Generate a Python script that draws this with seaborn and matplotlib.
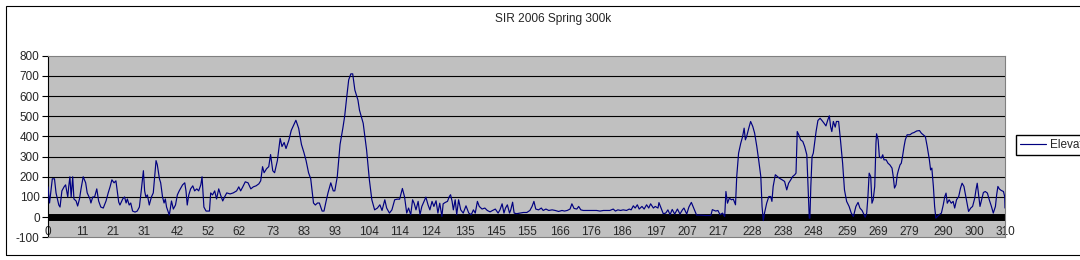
import matplotlib
matplotlib.use("Agg")
import matplotlib.pyplot as plt
from matplotlib.patches import Rectangle
import seaborn as sns
import pandas as pd

# ---- data ----
distance_km = [
    0.0, 0.5, 1.4, 2.1, 2.6, 3.5, 3.9, 4.5, 5.2, 5.7, 6.4, 6.7, 7.1, 7.5, 8.0, 8.4, 9.1, 9.6,
    10.2, 10.7, 11.4, 12.2, 12.7, 13.6, 13.9, 14.5, 15.1, 15.8, 16.4, 17.1, 17.9, 18.8, 19.5,
    20.1, 20.7, 21.4, 22.0, 22.9, 23.3, 24.2, 24.8, 25.3, 25.7, 26.3, 26.8, 27.4, 28.2, 28.9,
    29.6, 30.2, 30.9, 31.3, 31.7, 32.2, 32.8, 33.5, 34.1, 35.0, 35.4, 36.1, 36.5, 37.1, 37.6,
    38.0, 38.4, 39.3, 40.0, 40.6, 41.3, 41.9, 42.5, 43.6, 44.3, 44.7, 45.1, 45.6, 46.2, 46.9,
    47.5, 48.2, 48.8, 49.5, 49.9, 50.5, 51.2, 52.3, 52.7, 53.3, 54.0, 54.6, 55.3, 55.9, 56.6,
    57.2, 57.9, 59.0, 60.0, 61.1, 61.8, 62.4, 63.1, 63.9, 64.8, 65.7, 66.5, 67.4, 68.3, 68.9,
    69.5, 70.0, 70.8, 71.5, 72.1, 72.8, 73.4, 74.3, 75.2, 75.8, 76.5, 77.1, 78.0, 78.8, 79.7,
    80.3, 81.2, 82.1, 82.9, 83.6, 84.4, 85.1, 86.0, 86.6, 87.3, 87.9, 88.8, 89.4, 90.1, 90.7,
    91.6, 92.4, 92.9, 93.7, 94.6, 95.5, 96.1, 96.8, 97.4, 98.1, 98.7, 99.4, 100.4, 100.9,
    102.1, 103.2, 104.1, 104.9, 105.8, 106.7, 107.5, 108.2, 109.1, 109.7, 110.6, 111.4, 112.3,
    113.1, 113.9, 114.8, 115.5, 116.2, 116.8, 117.5, 118.1, 118.6, 119.2, 119.9, 120.5, 121.1,
    121.8, 122.4, 123.1, 123.7, 124.4, 125.0, 125.7, 126.3, 126.9, 127.6, 128.0, 128.7, 129.4,
    130.0, 130.4, 130.9, 131.3, 131.9, 132.4, 133.0, 133.7, 134.5, 135.4, 136.3, 137.1, 137.8,
    138.4, 139.1, 139.7, 140.6, 141.5, 142.3, 143.2, 144.0, 144.9, 145.8, 146.4, 147.1, 147.7,
    148.2, 148.8, 149.5, 149.9, 150.5, 151.0, 151.8, 152.9, 154.0, 155.1, 156.1, 156.8, 157.4,
    158.0, 158.9, 159.8, 160.4, 161.3, 162.2, 163.3, 164.3, 165.4, 166.5, 167.3, 168.2, 169.1,
    169.7, 170.4, 171.3, 171.9, 172.6, 173.4, 174.5, 175.6, 176.7, 177.7, 178.8, 179.9, 181.0,
    182.0, 183.1, 183.8, 184.6, 185.5, 186.3, 187.4, 188.3, 188.9, 189.6, 190.2, 190.9, 191.5,
    192.4, 193.1, 193.9, 194.6, 195.2, 196.1, 196.7, 197.6, 197.9, 198.7, 199.3, 200.1, 200.8,
    201.5, 202.2, 203.0, 203.9, 204.7, 205.5, 206.0, 206.9, 207.6, 208.4, 209.3, 210.1, 211.4,
    213.0, 214.7, 215.2, 216.3, 217.0, 217.7, 218.5, 219.2, 219.6, 220.1, 220.7, 221.4, 222.0,
    222.7, 223.1, 223.7, 224.4, 225.0, 225.5, 225.9, 226.3, 227.0, 227.6, 228.3, 228.9, 229.6,
    230.2, 230.9, 231.3, 231.7, 232.1, 232.8, 233.5, 234.1, 234.5, 234.9, 235.6, 236.3, 236.9,
    237.8, 238.6, 239.3, 239.9, 240.6, 241.2, 241.9, 242.3, 242.7, 243.2, 243.8, 244.5, 245.1,
    245.8, 246.2, 246.6, 246.8, 247.1, 247.5, 247.9, 248.3, 248.8, 249.4, 250.1, 250.7, 251.4,
    252.0, 252.6, 253.1, 253.5, 253.9, 254.4, 255.0, 255.4, 256.1, 256.7, 257.4, 258.0, 258.7,
    259.5, 260.2, 260.9, 261.3, 261.7, 262.4, 263.0, 263.7, 264.1, 264.7, 265.2, 265.6, 266.0,
    266.5, 266.9, 267.3, 267.8, 268.2, 268.4, 268.9, 269.3, 269.9, 270.4, 270.8, 271.5, 272.1,
    272.7, 273.4, 273.8, 274.2, 274.7, 275.1, 275.5, 276.0, 276.4, 276.8, 277.3, 277.7, 278.3,
    279.2, 279.9, 280.5, 281.4, 282.3, 282.9, 283.5, 284.2, 284.8, 285.5, 285.9, 286.3, 286.8,
    287.2, 287.6, 288.1, 288.7, 289.4, 290.0, 290.5, 290.9, 291.3, 291.9, 292.6, 293.2, 293.7,
    294.3, 295.0, 295.6, 296.1, 296.7, 297.1, 297.6, 298.2, 298.9, 299.5, 300.2, 300.6, 301.0,
    301.5, 301.9, 302.3, 303.0, 303.6, 304.3, 304.9, 305.6, 306.2, 306.9, 307.3, 307.7, 308.2,
    308.8, 309.5, 309.9, 310.0,
]

elevation_m = [
    150, 70, 190, 190, 120, 60, 50, 130, 150, 160, 100, 150, 200, 100, 200, 90, 80, 55,
    90, 140, 200, 170, 120, 90, 70, 100, 100, 140, 80, 50, 45, 80, 120,
    150, 185, 170, 180, 75, 60, 90, 100, 70, 90, 60, 70, 30, 25, 30,
    50, 130, 230, 130, 100, 110, 60, 100, 120, 280, 260, 190, 170, 100, 70,
    90, 50, 10, 80, 40, 60, 110, 130, 160, 170, 130, 60, 110, 140, 155,
    130, 140, 130, 160, 200, 50, 30, 30, 120, 110, 130, 90, 140, 110, 80,
    100, 120, 115, 120, 130, 150, 130, 150, 175, 170, 140, 150, 155, 165, 180,
    250, 220, 240, 250, 310, 230, 220, 280, 390, 350, 370, 340, 380, 430, 460,
    480, 440, 360, 320, 280, 220, 190, 70, 60, 70, 70, 30, 30, 80, 120,
    170, 130, 130, 200, 360, 440, 500, 600, 680, 710, 710, 630, 580, 530,
    465, 333, 185, 86, 36, 45, 61, 33, 86, 45, 20, 36, 86,
    89, 89, 142, 100, 20, 45, 12, 86, 69, 36, 78, 12, 53,
    78, 99, 61, 36, 78, 53, 81, 20, 69, 3, 66, 73, 78,
    102, 111, 78, 36, 86, 12, 86, 36, 20, 56, 20, 12, 36,
    20, 78, 53, 40, 45, 33, 26, 33, 40, 20, 36, 66, 20,
    45, 61, 20, 36, 74, 20, 17, 20, 23, 23, 33, 53, 78,
    40, 36, 45, 33, 40, 33, 36, 33, 28, 33, 30, 33, 40,
    66, 43, 40, 53, 36, 33, 33, 33, 33, 33, 30, 33, 33,
    33, 40, 30, 36, 33, 36, 33, 40, 36, 56, 45, 61, 40,
    53, 40, 61, 45, 66, 45, 53, 45, 72, 40, 17, 20, 36,
    12, 38, 15, 40, 15, 36, 45, 15, 50, 73, 40, 10, 10,
    8, 8, 37, 30, 33, 12, 20, 3, 127, 69, 94, 86, 89,
    61, 201, 317, 366, 399, 441, 383, 399, 441, 474, 449, 416, 350,
    284, 201, 53, -17, 20, 69, 102, 102, 78, 152, 210, 201, 193,
    185, 177, 135, 168, 185, 201, 210, 218, 424, 408, 383, 375, 350,
    309, 152, -5, -5, 152, 300, 317, 366, 424, 479, 490, 479, 465,
    452, 482, 502, 449, 424, 474, 446, 474, 474, 383, 267, 135, 78,
    53, 20, 3, 28, 53, 73, 45, 33, 20, 0, 20, 102, 218,
    201, 69, 86, 152, 366, 413, 383, 300, 292, 309, 284, 284, 267,
    259, 243, 201, 144, 160, 210, 234, 259, 267, 300, 350, 383, 408,
    408, 416, 419, 427, 429, 416, 408, 399, 350, 284, 234, 243, 152,
    53, -5, 3, 12, 20, 61, 102, 119, 69, 86, 69, 78, 45,
    86, 102, 144, 168, 152, 119, 78, 28, 45, 53, 94, 135, 168,
    102, 53, 78, 122, 127, 119, 86, 53, 20, 53, 111, 152, 139,
    132, 127, 102, 45,
]

x_tick_labels = [0, 11, 21, 31, 42, 52, 62, 73, 83, 93, 104, 114, 124, 135, 145, 155,
                 166, 176, 186, 197, 207, 217, 228, 238, 248, 259, 269, 279, 290, 300, 310]
y_ticks = [-100, 0, 100, 200, 300, 400, 500, 600, 700, 800]
title_text = "SIR 2006 Spring 300k"
series_name = "Elevation"

# ---- style ----
sns.set_theme(style="white")
plt.rcParams["font.family"] = ["Liberation Sans", "DejaVu Sans"]

W, H = 1080, 260
fig = plt.figure(figsize=(W / 100, H / 100), dpi=100)
fig.patch.set_facecolor("white")

# outer chart border (right side runs off the image)
fig.add_artist(Rectangle((5.5 / W, 1 - 254.5 / H), 1.2, (254.5 - 5.5) / H,
                         transform=fig.transFigure, fill=False,
                         edgecolor="black", linewidth=0.8))

left, right = 48 / W, 1005 / W
top, bottom = 55.7 / H, 237.3 / H
ax = fig.add_axes([left, 1 - bottom, right - left, bottom - top])
ax.set_facecolor("#C0C0C0")

df = pd.DataFrame({"km": distance_km, "elev": elevation_m})
sns.lineplot(data=df, x="km", y="elev", ax=ax, color="#000080", linewidth=0.85,
             estimator=None, label=series_name, zorder=5)

ax.set_xlim(0, 310)
ax.set_ylim(-100, 800)

# horizontal gridlines
for v in y_ticks:
    if v not in (-100, 0, 800):
        ax.axhline(v, color="black", linewidth=0.8, zorder=1)
# thick category axis at 0
ax.axhline(0, color="black", linewidth=5.0, zorder=2)

ax.set_yticks(y_ticks)
ax.set_yticklabels([str(v) for v in y_ticks])
ax.set_xticks(x_tick_labels)
ax.set_xticklabels([str(v) for v in x_tick_labels])
ax.tick_params(axis="y", direction="out", length=4, width=0.8, color="black",
               labelsize=8.5, pad=2, left=True)
ax.tick_params(axis="x", length=0, labelsize=8.5, pad=-8.0, bottom=True)
for lab in ax.get_xticklabels():
    lab.set_zorder(6)
ax.set_xlabel("")
ax.set_ylabel("")

for s in ("top", "right", "bottom"):
    ax.spines[s].set_color("#808080")
    ax.spines[s].set_linewidth(0.8)
ax.spines["left"].set_color("black")
ax.spines["left"].set_linewidth(0.8)

# legend (runs off the right edge like the reference)
ax.legend(loc="center left", bbox_to_anchor=(1016 / W, 1 - 145 / H),
          bbox_transform=fig.transFigure, frameon=True, fancybox=False,
          edgecolor="black", framealpha=1, fontsize=8.5, handlelength=2.2,
          handletextpad=0.4, borderpad=0.3, borderaxespad=0)

fig.text(553 / W, 1 - 19 / H, title_text, ha="center", va="center", fontsize=8.6)

fig.savefig("out.png", dpi=100)
